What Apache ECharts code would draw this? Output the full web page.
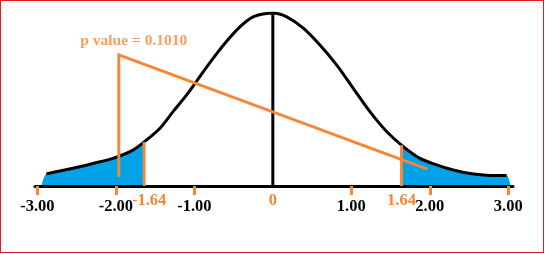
<!DOCTYPE html>
<html>
<head>
<meta charset="utf-8">
<script src="https://cdn.jsdelivr.net/npm/echarts@6/dist/echarts.min.js"></script>
<style>
html,body{margin:0;padding:0;background:#fff;}
#frame{position:absolute;left:0;top:0;width:544px;height:253px;border:1px solid #e01b1b;box-sizing:border-box;}
#chart{position:absolute;left:0;top:0;width:545px;height:254px;}
</style>
</head>
<body>
<div id="chart"></div>
<div id="frame"></div>
<script>
// Hand-drawn normal curve (z, height in density units)
const curveZ = [-2.886, -2.547, -2.292, -2.037, -1.782, -1.611, -1.441, -1.271, -1.100, -0.930, -0.761, -0.591, -0.420, -0.251, -0.081, 0, 0.177, 0.388, 0.600, 0.812, 1.024, 1.237, 1.450, 1.662, 1.874, 2.087, 2.299, 2.511, 2.724, 2.979];
const curveY = [0.028, 0.041, 0.052, 0.064, 0.083, 0.106, 0.133, 0.172, 0.210, 0.253, 0.295, 0.334, 0.368, 0.391, 0.399, 0.400, 0.391, 0.365, 0.326, 0.280, 0.226, 0.172, 0.126, 0.091, 0.064, 0.049, 0.037, 0.029, 0.025, 0.024];

// Shaded tails
const leftTailZ = [-2.95, -2.886, -2.547, -2.292, -2.037, -1.782, -1.64];
const leftTailY = [0.0, 0.028, 0.041, 0.052, 0.064, 0.083, 0.102];
const rightTailZ = [1.64, 1.662, 1.874, 2.087, 2.299, 2.511, 2.724, 2.979, 3.03];
const rightTailY = [0.094, 0.091, 0.064, 0.049, 0.037, 0.029, 0.025, 0.024, 0.0];

// Critical values and their line heights
const critZ = [-1.64, 1.64];
const critH = [0.102, 0.094];

// Pointer annotation
const pointerZ = [-1.962, -1.962, 1.968];
const pointerY = [0.0215, 0.303, 0.039];
const pLabel = 'p value = 0.1010';

// Tick labels
const tickValues = [-3, -2, -1, 1, 2, 3];
const orangeLabelValues = [-1.64, 0, 1.64];

const ORANGE = '#f4873a';
const BLUE = '#00a2e8';
const zip = (a, b) => a.map((v, i) => [v, b[i]]);

const chart = echarts.init(document.getElementById('chart'), null, {renderer: 'canvas'});
const xMin = -3.03, xMax = 3.06;
const serif = '"Liberation Serif", "DejaVu Serif", serif';
const orangeText = {color: ORANGE, fontWeight: 'bold', fontFamily: serif, fontSize: 16.5};

chart.setOption({
  animation: false,
  backgroundColor: '#ffffff',
  grid: {left: 35, right: 32, top: 13, bottom: 68},
  xAxis: [
    {
      type: 'value', min: xMin, max: xMax, z: 2,
      axisLine: {show: true, onZero: false, lineStyle: {color: '#000', width: 3}},
      axisTick: {show: true, customValues: tickValues, length: 9, lineStyle: {color: ORANGE, width: 3}},
      axisLabel: {customValues: tickValues, formatter: v => v.toFixed(2), color: '#000', fontWeight: 'bold', fontFamily: serif, fontSize: 16.5, margin: 12},
      splitLine: {show: false}
    },
    {
      type: 'value', min: xMin, max: xMax, position: 'bottom', z: 6,
      axisLine: {show: false}, axisTick: {show: false},
      axisLabel: {
        customValues: orangeLabelValues,
        formatter: v => v === 0 ? '{o|0}' : (v < 0 ? '{l|' + v.toFixed(2) + '}' : '{o|' + v.toFixed(2) + '}'),
        margin: 6,
        rich: {o: orangeText, l: Object.assign({padding: [0, 0, 0, 10]}, orangeText)}
      },
      splitLine: {show: false}
    }
  ],
  yAxis: {type: 'value', min: 0, max: 0.4, show: false, splitLine: {show: false}},
  series: [
    {type: 'line', data: zip(leftTailZ, leftTailY), smooth: 0.25, symbol: 'none', lineStyle: {width: 0}, areaStyle: {color: BLUE, opacity: 1}, z: 1},
    {type: 'line', data: zip(rightTailZ, rightTailY), smooth: 0.25, symbol: 'none', lineStyle: {width: 0}, areaStyle: {color: BLUE, opacity: 1}, z: 1},
    {type: 'line', data: zip(curveZ, curveY), smooth: 0.3, symbol: 'none', lineStyle: {color: '#000', width: 3}, z: 3},
    {type: 'line', data: [[0, 0], [0, 0.4]], symbol: 'none', lineStyle: {color: '#000', width: 3}, z: 3},
    {type: 'line', data: [[critZ[0], 0], [critZ[0], critH[0]]], symbol: 'none', lineStyle: {color: ORANGE, width: 3}, z: 4},
    {type: 'line', data: [[critZ[1], 0], [critZ[1], critH[1]]], symbol: 'none', lineStyle: {color: ORANGE, width: 3}, z: 4},
    {type: 'line', data: zip(pointerZ, pointerY), symbol: 'none', lineStyle: {color: ORANGE, width: 3, cap: 'butt', join: 'miter'}, z: 4},
    {type: 'scatter', data: [[pointerZ[1], pointerY[1]]], symbolSize: 1, itemStyle: {color: 'rgba(0,0,0,0)'}, z: 5,
      label: {show: true, formatter: pLabel, position: 'top', distance: 5, offset: [15, 0], color: ORANGE, fontWeight: 'bold', fontFamily: serif, fontSize: 15.5}}
  ]
});
</script>
</body>
</html>
